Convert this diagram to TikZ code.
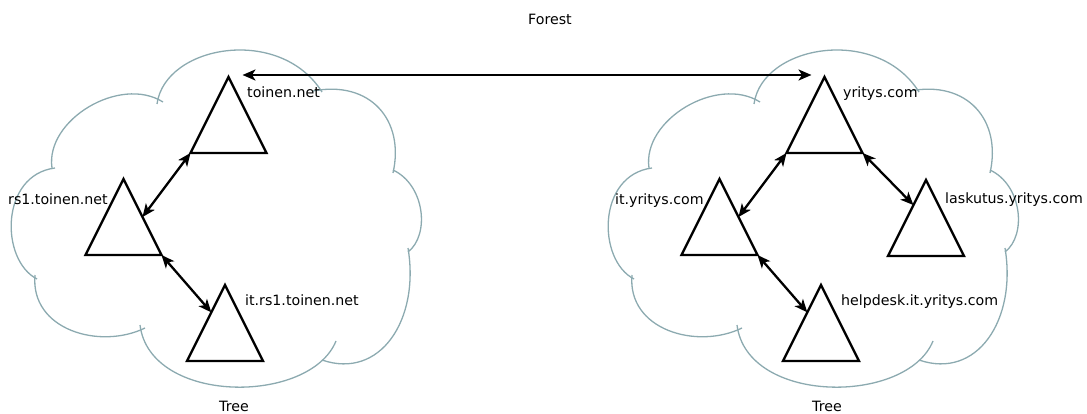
\documentclass[tikz,border=0pt]{standalone}
\usepackage{fontspec}
\setmainfont{DejaVu Sans}
\usetikzlibrary{arrows.meta,calc}

\definecolor{cloudline}{RGB}{140,170,176}

\tikzset{
  treebox/.style={minimum width=76pt,minimum height=76pt,inner sep=0pt,outer sep=0pt},
  triline/.style={line width=2.4pt,line join=miter},
  link/.style={line width=2.3pt,{Stealth[length=13pt,width=11pt,inset=3.5pt]}-{Stealth[length=13pt,width=11pt,inset=3.5pt]}},
  lbl/.style={inner sep=0pt,font=\fontsize{14.2pt}{16pt}\selectfont},
  cloudstroke/.style={draw=cloudline,line width=1.3pt},
  pics/treecloud/.style={code={
    \draw[cloudstroke] (52,168) .. controls (45,120) and (120,75) .. (163,102);
    \draw[cloudstroke] (157,104) .. controls (165,45) and (280,25) .. (322,92);
    \draw[cloudstroke] (313,91) .. controls (370,80) and (405,120) .. (393,173);
    \draw[cloudstroke] (393,170) .. controls (425,185) and (430,235) .. (408,252);
    \draw[cloudstroke] (408,248) .. controls (420,320) and (380,380) .. (322,360);
    \draw[cloudstroke] (336,341) .. controls (310,405) and (150,405) .. (140,325);
    \draw[cloudstroke] (145,328) .. controls (100,350) and (30,330) .. (35,275);
    \draw[cloudstroke] (37,279) .. controls (0,260) and (0,175) .. (55,168);
  }}
}

\begin{document}
\begin{tikzpicture}[x=1pt,y=-1pt]
  \useasboundingbox (0,0) rectangle (1087,414);

  % the two clouds
  \pic at (0,0) {treecloud};
  \pic at (597,0) {treecloud};

  % domain trees
  \node[treebox] (t1) at (228.5,115) {};
  \node[treebox] (t2) at (123.5,217) {};
  \node[treebox] (t3) at (225,323) {};
  \node[treebox] (t4) at (824.5,115) {};
  \node[treebox] (t5) at (719.5,217) {};
  \node[treebox] (t6) at (926,218) {};
  \node[treebox] (t7) at (821,323) {};
  \foreach \t in {t1,t2,t3,t4,t5,t6,t7}
    \draw[triline] (\t.north) -- (\t.south east) -- (\t.south west) -- cycle;

  % trust links
  \coordinate (trustL) at ($(t1.north)+(14,-2)$);
  \coordinate (trustR) at ($(t4.north)+(-13,-2)$);
  \draw[link] (trustL) -- (trustR);
  \draw[link] ($(t2.north)!0.5!(t2.south east)$) -- (t1.south west);
  \draw[link] (t2.south east) -- ($(t3.north)!0.36!(t3.south west)$);
  \draw[link] ($(t5.north)!0.5!(t5.south east)$) -- (t4.south west);
  \draw[link] (t4.south east) -- ($(t6.north)!0.33!(t6.south west)$);
  \draw[link] (t5.south east) -- ($(t7.north)!0.36!(t7.south west)$);

  % labels
  \node[lbl,anchor=base] (forest) at (550,25) {Forest};
  \node[lbl,anchor=base west] (l1) at (247,98) {toinen.net};
  \node[lbl,anchor=base west] (l2) at (8,205) {rs1.toinen.net};
  \node[lbl,anchor=base west] (l3) at (245,305) {it.rs1.toinen.net};
  \node[lbl,anchor=base west] (l4) at (843,98) {yritys.com};
  \node[lbl,anchor=base west] (l5) at (615,205) {it.yritys.com};
  \node[lbl,anchor=base west] (l6) at (945,204) {laskutus.yritys.com};
  \node[lbl,anchor=base west] (l7) at (841,305) {helpdesk.it.yritys.com};
  \node[lbl,anchor=base] (treeL) at (234,411) {Tree};
  \node[lbl,anchor=base] (treeR) at (827,411) {Tree};
\end{tikzpicture}
\end{document}
